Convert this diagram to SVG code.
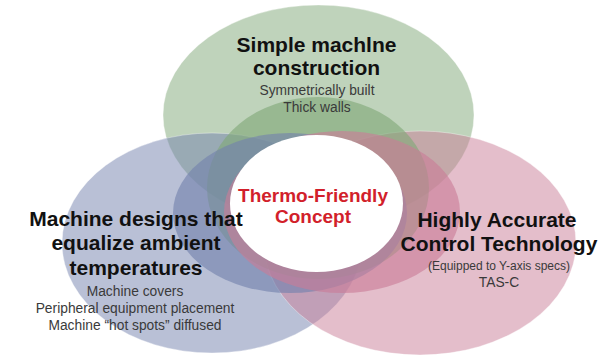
<svg xmlns="http://www.w3.org/2000/svg" width="601" height="357" viewBox="0 0 601 357">
  <style>
    .big { stroke: #ffffff; stroke-opacity: 0.45; stroke-width: 0.8; }
    .green { fill: #7fa878; fill-opacity: 0.5; }
    .blue { fill: #7381ad; fill-opacity: 0.5; }
    .pink { fill: #c97d97; fill-opacity: 0.5; }
    .inner { fill-opacity: 0.62; }
    .title { font-family: "Liberation Sans", Arial, Helvetica, sans-serif; font-weight: bold; font-size: 21px; fill: #111111; text-anchor: middle; }
    .sub { font-family: "Liberation Sans", Arial, Helvetica, sans-serif; font-size: 13.8px; fill: #3a3a3a; text-anchor: middle; }
    .small { font-family: "Liberation Sans", Arial, Helvetica, sans-serif; font-size: 12px; fill: #3a3a3a; text-anchor: middle; }
    .core { font-family: "Liberation Sans", Arial, Helvetica, sans-serif; font-weight: bold; font-size: 19px; fill: #d21f2b; text-anchor: middle; }
  </style>
  <rect width="601" height="357" fill="#ffffff"/>

  <!-- outer circles -->
  <g id="construction">
    <ellipse class="big green" cx="318.5" cy="115" rx="155.5" ry="110"/>
  </g>
  <g id="ambient">
    <ellipse class="big blue" cx="212" cy="243" rx="150" ry="110"/>
  </g>
  <g id="control">
    <ellipse class="big pink" cx="420" cy="243" rx="156" ry="112"/>
  </g>

  <!-- inner ring around the core -->
  <g id="ring">
    <ellipse class="green inner" cx="318" cy="188" rx="111" ry="91"/>
    <ellipse class="blue inner" cx="290" cy="213" rx="117" ry="80"/>
    <ellipse class="pink inner" cx="342" cy="212" rx="118" ry="81"/>
  </g>

  <g id="core">
    <ellipse cx="316.5" cy="203.5" rx="86.5" ry="68.5" fill="#ffffff"/>
    <text class="core" x="313" y="201.5">Thermo-Friendly</text>
    <text class="core" x="313" y="223">Concept</text>
  </g>

  <g id="connectors"></g>

  <!-- labels -->
  <g id="construction-label">
    <text class="title" x="316.5" y="52">Simple machlne</text>
    <text class="title" x="316.5" y="75">construction</text>
    <text class="sub" x="317" y="94.5">Symmetrically built</text>
    <text class="sub" x="317" y="111.5">Thick walls</text>
  </g>
  <g id="ambient-label">
    <text class="title" x="136" y="226">Machine designs that</text>
    <text class="title" x="136" y="250">equalize ambient</text>
    <text class="title" x="136" y="275">temperatures</text>
    <text class="sub" x="135" y="296">Machine covers</text>
    <text class="sub" x="135" y="313">Peripheral equipment placement</text>
    <text class="sub" x="135" y="330">Machine “hot spots” diffused</text>
  </g>
  <g id="control-label">
    <text class="title" x="497" y="227">Highly Accurate</text>
    <text class="title" x="499" y="251">Control Technology</text>
    <text class="small" x="499" y="270">(Equipped to Y-axis specs)</text>
    <text class="sub" x="499" y="287">TAS-C</text>
  </g>
</svg>
